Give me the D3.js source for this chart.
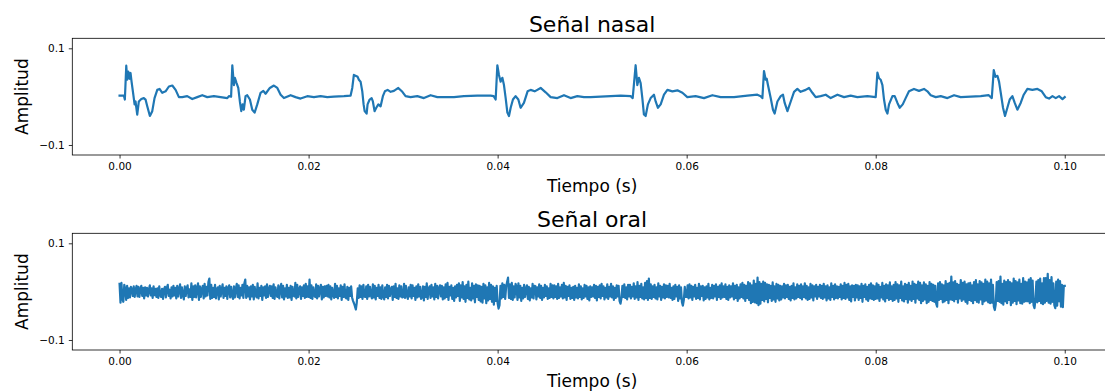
<!DOCTYPE html>
<html>
<head>
<meta charset="utf-8">
<script src="https://cdn.jsdelivr.net/npm/d3@7"></script>
<style>
  body { margin: 0; background: #fff; }
  text { font-family: "DejaVu Sans", sans-serif; }
</style>
</head>
<body>
<div id="chart"></div>
<script>
// nasal signal: [time in ms, amplitude x 1000]
const nasal = [
  [0, 2], [0.46, 2], [0.56, -6], [0.71, 64], [0.81, 35], [0.92, 52], [1.06, 37], [1.16, 49], [1.27, 31], [1.41, 11],
  [1.59, -16], [1.69, -10], [1.87, -37], [2.04, -10], [2.30, -5], [2.57, -3], [2.75, -6], [2.93, -20], [3.21, -40], [3.46, -30],
  [3.70, -3], [3.99, 14], [4.23, 16], [4.52, 8], [4.87, 11], [5.22, 21], [5.58, 23], [5.93, 14], [6.28, -1], [6.63, -1],
  [7.16, 1], [7.69, -5], [8.22, -1], [8.75, 3], [9.28, -1], [9.98, 1], [10.69, -1], [11.40, -3], [11.57, 1], [11.80, 0],
  [11.93, 65], [12.10, 24], [12.20, 39], [12.38, 28], [12.56, 18], [12.73, -10], [12.88, -30], [13.02, -16], [13.15, -27], [13.33, 1],
  [13.51, 3], [13.79, -6], [14.04, -27], [14.29, -33], [14.57, -16], [14.92, 8], [15.21, 12], [15.45, 6], [15.90, 18], [16.33, 23],
  [16.69, 18], [17.04, 4], [17.39, -3], [18.10, 3], [18.62, -1], [19.15, -4], [19.86, 1], [20.56, -1], [21.27, 1], [21.98, -1],
  [22.68, 0], [23.74, 1], [24.44, 2], [24.62, 18], [24.79, 45], [25.19, 41], [25.32, 35], [25.50, 31], [25.68, 11], [25.82, -16],
  [25.93, -30], [26.14, -35], [26.24, -16], [26.46, -6], [26.67, -3], [26.80, -10], [26.98, -30], [27.16, -23], [27.38, -16], [27.62, -20],
  [27.86, 1], [28.07, 11], [28.36, 14], [28.68, 10], [29.03, 12], [29.49, 18], [29.92, 10], [30.26, 1], [30.79, -1], [31.50, 1],
  [32.20, -3], [32.91, 3], [33.62, -1], [34.32, -1], [35.38, -1], [36.43, 1], [37.85, 2], [39.26, 2], [39.58, 1], [39.79, -6],
  [39.97, 65], [40.14, 45], [40.32, 31], [40.50, 39], [40.67, 24], [40.85, -3], [41.03, -33], [41.20, -40], [41.38, -23], [41.62, -6],
  [41.90, 1], [42.19, -6], [42.43, -23], [42.78, -13], [43.17, 11], [43.49, 14], [43.92, 11], [44.55, 18], [45.08, 9], [45.61, -1],
  [46.32, -3], [47.02, 3], [47.72, -3], [48.43, 1], [49.13, -1], [49.84, -1], [50.90, 0], [51.96, 1], [53.02, 2], [54.07, 1],
  [54.29, -3], [54.60, 65], [54.78, 24], [54.95, 39], [55.13, 28], [55.31, -3], [55.48, -37], [55.66, -40], [55.90, -16], [56.19, -3],
  [56.54, 4], [56.72, -10], [56.96, -23], [57.25, -16], [57.60, 4], [57.96, 14], [58.49, 11], [59.02, 13], [59.55, 8], [60.07, -1],
  [60.95, 1], [61.83, -3], [62.72, 3], [63.60, -1], [65.01, -1], [66.42, 2], [67.48, 4], [67.83, 1], [68.01, -3], [68.18, 53],
  [68.36, 35], [68.47, 37], [68.60, 24], [68.89, -3], [69.13, -27], [69.31, -35], [69.60, -10], [69.95, 1], [70.19, 4], [70.37, -13],
  [70.66, -30], [71.01, -10], [71.36, 10], [71.71, 16], [72.06, 10], [72.59, 14], [72.94, 18], [73.30, 8], [73.65, -1], [74.18, 1],
  [74.71, 4], [75.24, -3], [75.95, 4], [76.65, -1], [77.35, 2], [78.06, -1], [79.12, 1], [80.00, -1], [80.18, 50], [80.35, 38],
  [80.53, 35], [80.71, 24], [80.88, -6], [81.06, -27], [81.24, -35], [81.41, -16], [81.77, 1], [82.01, 1], [82.30, -13], [82.54, -23],
  [82.86, -16], [83.17, -3], [83.52, 11], [84.05, 16], [84.58, 12], [85.11, 16], [85.47, 11], [85.82, 3], [86.35, -1], [86.88, 1],
  [87.59, -3], [88.29, 3], [88.99, -1], [90.05, 0], [91.11, 1], [91.96, 3], [92.28, -3], [92.49, 55], [92.67, 41], [92.88, 43],
  [93.05, 31], [93.23, 8], [93.47, -23], [93.68, -40], [93.93, -23], [94.18, -6], [94.46, 1], [94.71, -13], [94.99, -27], [95.34, -13],
  [95.66, 4], [96.05, 16], [96.58, 14], [97.11, 16], [97.57, 11], [97.99, -1], [98.34, -4], [98.70, 1], [99.05, -3], [99.40, 1],
  [99.76, -5], [100.00, -1]
];

// oral signal: amplitude x 1000, one reading every oralStepMs (20 readings per row = 2 ms)
const oralStepMs = 0.1;
const oral = [
  16, -23, 18, -15, -21, 14, 6, -17, 12, -13, 7, -12, 10, 5, -9, 11, -11, 4, 12, -10,
  10, -11, 5, 12, -9, 8, -14, 9, -8, 8, -10, 4, 13, -8, 7, -13, 11, -7, 6, -11,
  7, -13, 11, -7, -11, 6, -15, 5, 10, -12, 8, 14, -9, 4, -14, 9, -10, 12, -8, 8,
  -14, 12, -10, 5, 15, -13, 9, -7, -16, 11, -9, 7, 13, -12, 5, -11, 17, -17, 11, -11,
  13, -12, 6, 17, -17, 11, -11, 5, 12, -14, 16, -10, 10, -8, 20, 27, -15, 14, -13, 8,
  -11, 14, -14, 5, 9, -16, 12, -10, 4, 15, -13, 8, -9, 11, -15, 7, 13, -12, 10, -8,
  -15, 11, -12, 6, 16, -11, 13, -14, 8, -8, 14, -13, 17, 25, -13, 12, -10, 9, -16, 11,
  -10, 14, -16, 10, -7, -12, 17, -14, 8, -9, 12, -17, 9, -8, 11, -13, 15, -11, 6, 12,
  -9, 11, -13, 15, -15, 9, -7, -11, 13, -14, 6, 16, -12, 12, -16, 7, -10, 14, -13, 8,
  -12, 12, -17, 10, -8, -10, 18, -14, 14, -11, 5, 11, -15, 9, -9, 13, -13, 16, -11, 11,
  -11, 25, -13, 13, -15, 9, -8, -11, 15, -14, 12, -10, 6, 14, -16, 10, -12, 11, -9, 12,
  -10, 14, -12, 11, -16, 8, -7, -13, 16, -11, 12, -14, 7, -9, 13, -17, 10, -11, 15, -12,
  -14, 10, -17, 8, -9, 11, -12, -19, -24, -30, -37, -22, 7, -13, 13, -11, 11, -15, 14, -10,
  -11, 11, -15, 14, -10, 10, -8, -14, 15, -12, 12, -16, 8, -9, 14, -13, 9, -15, 13, -10,
  -16, 9, -11, 14, -14, 12, -9, 5, 10, -17, 11, -11, 16, -13, 7, -15, 13, -10, 11, -12,
  -11, 16, -13, 12, -8, -15, 9, -10, 14, -14, 13, -9, 8, -17, 11, -12, 15, -10, 10, -15,
  -12, 11, -18, 10, -11, 17, -15, 6, 11, -13, 14, -10, 9, -16, 16, -11, 12, -14, 7, 13,
  -10, 12, -16, 9, -14, 15, -11, 18, -17, 10, -8, 13, -15, 8, -19, 11, -12, 14, -9, 17,
  -19, 13, -12, 20, -15, 11, -21, 14, -13, 21, -16, 8, -18, 17, -14, 12, -22, 15, -11, 13,
  -17, 12, -20, 10, -23, 16, -14, 13, -24, 9, -18, 18, -15, 14, -21, 11, -27, 8, -19, 12,
  -24, -35, -28, 12, -14, 17, -11, 14, -15, 10, 20, 29, -13, 15, -15, 18, -17, 11, -12, 16,
  10, -17, 17, -12, 12, -19, 8, -14, 14, -11, 6, 13, -15, 10, -18, 7, -12, 16, -14, 12,
  11, -16, 9, -10, 15, -13, 12, -17, 8, -12, 14, -9, 11, -15, 7, -13, 16, -11, 13, -14,
  13, -11, 11, -15, 16, -13, 9, -10, 14, -14, 18, -12, 12, -17, 10, -9, 13, -15, 8, -13,
  10, -17, 12, -12, 8, -14, 15, -11, 11, -16, 7, -13, 14, -10, 12, -15, 9, -18, 11, -11,
  9, -10, 14, -13, 12, -18, 10, -11, 13, -14, 16, -9, 11, -16, 8, -12, 15, -15, 10, -10,
  16, -12, 11, -17, 8, -13, 13, -10, 12, -19, -25, -14, 12, -11, 15, -13, 9, -16, 14, -10,
  14, -14, 10, -10, 17, -15, 11, -12, 20, -17, 12, -11, 16, -14, 9, -16, 18, -13, 22, -17,
  27, -13, 15, -15, 11, -11, 14, -14, 9, -16, 17, -10, 12, -17, 10, -12, 15, -14, 13, -11,
  12, -12, 16, -13, 8, -17, 11, -15, 14, -10, 10, -19, 13, -14, 9, -22, -29, -17, 10, -11,
  -11, 13, -14, 15, -12, 12, -17, 10, -10, 14, -15, 8, -13, 16, -16, 11, -9, 12, -18, 9,
  -15, 11, -12, 16, -16, 8, -13, 14, -14, 12, -10, 15, -17, 10, -11, 13, -15, 17, -12, 11,
  -11, 15, -15, 10, -17, 13, -12, 11, -10, 17, -16, 12, -13, 14, -19, 9, -14, 15, -11, 18,
  -14, 14, -19, 12, -13, 20, -17, 17, -24, 13, -21, 23, -22, 16, -24, 29, -28, 20, -25, 16,
  -17, 21, -20, 18, -15, 15, -22, 14, -13, 12, -19, 19, -16, 11, -21, 16, -14, 14, -18, 12,
  -16, 11, -12, 16, -14, 13, -11, 14, -15, 10, -18, 12, -13, 17, -16, 9, -14, 15, -11, 12,
  -13, 15, -16, 11, -11, 17, -14, 12, -17, 9, -15, 16, -12, 13, -18, 11, -10, 14, -15, 10,
  -10, 14, -13, 12, -15, 16, -12, 11, -18, 13, -14, 9, -17, 17, -11, 12, -16, 15, -13, 11,
  -14, 10, -11, 15, -16, 12, -13, 18, -15, 14, -12, 16, -17, 11, -20, 13, -11, 12, -18, 14,
  -12, 13, -17, 11, -13, 16, -21, 12, -11, 15, -16, 10, -19, 14, -14, 17, -15, 13, -17, 11,
  -15, 17, -14, 14, -19, 10, -12, 18, -16, 12, -20, 15, -13, 13, -17, 19, -15, 11, -19, 14,
  -17, 20, -14, 15, -21, 13, -13, 21, -18, 11, -20, 16, -15, 14, -23, 18, -16, 12, -19, 21,
  -15, 16, -23, 14, -14, 21, -17, 18, -24, 13, -19, 19, -16, 15, -24, 12, -21, 20, -17, 16,
  -19, 14, -21, 12, -25, -31, 17, -17, 20, -15, 15, -22, 13, -20, 22, -17, 16, -24, 18, -16,
  31, -17, 19, -20, 22, -15, 16, -23, 14, -14, 24, -19, 18, -16, 21, -21, 15, -25, 17, -17,
  18, -19, 13, -24, 20, -17, 24, -21, 15, -23, 22, -16, 19, -26, 16, -20, 25, -18, 21, -22,
  17, -24, 25, -23, 14, -31, -38, -26, 20, -19, 22, -21, 31, -24, 16, -27, 23, -20, 20, -24,
  24, -17, 20, -28, 17, -23, 27, -19, 22, -26, 19, -18, 25, -24, 16, -25, 28, -21, 21, -20,
  19, -20, 25, -24, 28, -21, 23, -28, -34, -17, 21, -22, 24, -19, 27, -24, 17, -26, 28, -23,
  28, -19, 37, -23, 24, -25, 30, -21, 17, -28, -34, 21, -29, 25, -20, 22, -31, 14, -32, 12,
  12
];

const xTicks = [0, 0.02, 0.04, 0.06, 0.08, 0.10];
const yTicks = [-0.1, 0.1];
const xDomain = [-0.005, 0.105];
const yDomain = [-0.1207, 0.1207];

const panels = [
  {title: 'Señal nasal', top: 38.3, data: nasal.map(d => [d[0] / 1000, d[1] / 1000])},
  {title: 'Señal oral', top: 233.3, data: oral.map((v, i) => [i * oralStepMs / 1000, v / 1000])}
];

const width = 1105;
const height = 392;
const margin = {left: 72.3, right: 1112};
const plotHeight = 116.7;

const svg = d3.select('#chart')
  .append('svg')
  .attr('width', width)
  .attr('height', height);

const x = d3.scaleLinear().domain(xDomain).range([margin.left, margin.right]);

panels.forEach(p => drawPanel(p));

/**
 * Draws one subplot: frame, ticks, labels and the signal line
 */
function drawPanel(p) {
  const y = d3.scaleLinear().domain(yDomain).range([p.top + plotHeight, p.top]);
  const g = svg.append('g');

  // x axis
  g.append('g')
    .attr('transform', `translate(0, ${p.top + plotHeight})`)
    .call(d3.axisBottom(x).tickValues(xTicks).tickSize(3.5).tickPadding(4.5).tickFormat(d3.format('.2f')))
    .call(a => a.select('.domain').remove())
    .call(a => a.selectAll('text').attr('font-size', 10.5).attr('fill', '#000').attr('font-family', null))
    .call(a => a.selectAll('line').attr('stroke', '#000').attr('stroke-width', 0.8));

  // y axis
  g.append('g')
    .attr('transform', `translate(${margin.left}, 0)`)
    .call(d3.axisLeft(y).tickValues(yTicks).tickSize(3.5).tickPadding(4).tickFormat(d3.format('.1f')))
    .call(a => a.select('.domain').remove())
    .call(a => a.selectAll('text').attr('font-size', 10.5).attr('fill', '#000').attr('font-family', null))
    .call(a => a.selectAll('line').attr('stroke', '#000').attr('stroke-width', 0.8));

  const line = d3.line()
    .x(d => x(d[0]))
    .y(d => y(d[1]));

  g.append('path')
    .datum(p.data)
    .attr('d', line)
    .attr('fill', 'none')
    .attr('stroke', '#1f77b4')
    .attr('stroke-width', 2.2)
    .attr('stroke-linejoin', 'round')
    .attr('stroke-linecap', 'square');

  // frame
  g.append('rect')
    .attr('x', margin.left)
    .attr('y', p.top)
    .attr('width', margin.right - margin.left)
    .attr('height', plotHeight)
    .attr('fill', 'none')
    .attr('stroke', '#000')
    .attr('stroke-width', 0.8);

  g.append('text')
    .attr('x', (margin.left + margin.right) / 2)
    .attr('y', p.top - 6)
    .attr('text-anchor', 'middle')
    .attr('font-size', 22)
    .text(p.title);

  g.append('text')
    .attr('x', (margin.left + margin.right) / 2)
    .attr('y', p.top + plotHeight + 37)
    .attr('text-anchor', 'middle')
    .attr('font-size', 17)
    .text('Tiempo (s)');

  g.append('text')
    .attr('transform', `translate(27.5, ${p.top + plotHeight / 2}) rotate(-90)`)
    .attr('text-anchor', 'middle')
    .attr('font-size', 17)
    .text('Amplitud');
}
</script>
</body>
</html>
